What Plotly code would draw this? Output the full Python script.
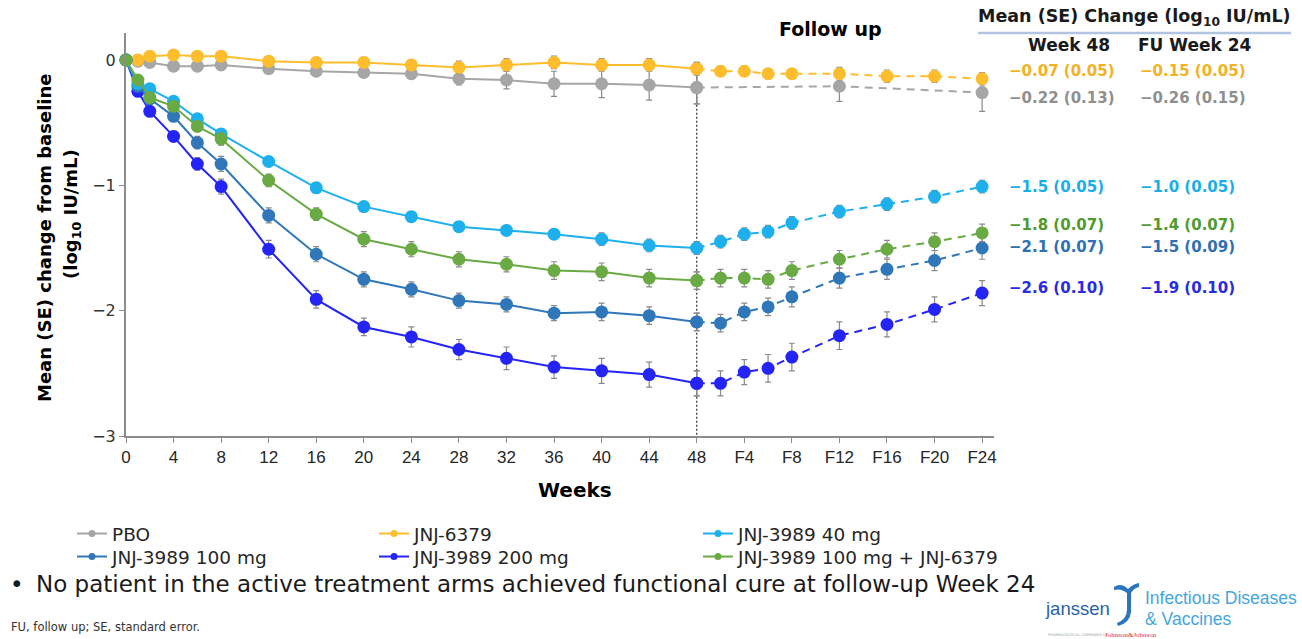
import plotly.graph_objects as go

# ---------------------------------------------------------------- canvas
W, H = 1302, 639
M_L, M_R, M_T, M_B = 126, 308, 33, 203
PW, PH = W - M_L - M_R, H - M_T - M_B


def px(x):
    """pixel column -> paper x"""
    return (x - M_L) / PW


def py(y):
    """pixel row -> paper y"""
    return (H - M_B - y) / PH


# ---------------------------------------------------------------- data
weeks = [0, 1, 2, 4, 6, 8, 12, 16, 20, 24, 28, 32, 36, 40, 44, 48]
fu_weeks = [48, 50, 52, 54, 56, 60, 64, 68, 72]
fu_weeks_pbo = [48, 60, 72]

tick_vals = [0, 4, 8, 12, 16, 20, 24, 28, 32, 36, 40, 44, 48, 52, 56, 60, 64, 68, 72]
tick_text = ["0", "4", "8", "12", "16", "20", "24", "28", "32", "36", "40", "44", "48",
             "F4", "F8", "F12", "F16", "F20", "F24"]

pbo_mean = [0, -0.01, -0.02, -0.05, -0.05, -0.04, -0.07, -0.09, -0.10, -0.11, -0.15, -0.16, -0.19, -0.19, -0.20, -0.22]
pbo_se = [0, 0.01, 0.02, 0.02, 0.02, 0.02, 0.03, 0.03, 0.04, 0.04, 0.05, 0.07, 0.10, 0.11, 0.12, 0.13]
pbo_fu_mean = [-0.22, -0.21, -0.26]
pbo_fu_se = [0.13, 0.12, 0.15]

j6379_mean = [0, 0.00, 0.03, 0.04, 0.03, 0.03, -0.01, -0.02, -0.02, -0.04, -0.06, -0.04, -0.02, -0.04, -0.04, -0.07]
j6379_se = [0, 0.01, 0.02, 0.02, 0.02, 0.03, 0.03, 0.04, 0.04, 0.04, 0.05, 0.05, 0.05, 0.05, 0.05, 0.05]
j6379_fu_mean = [-0.07, -0.09, -0.09, -0.11, -0.11, -0.11, -0.13, -0.13, -0.15]
j6379_fu_se = [0.05, 0.04, 0.04, 0.04, 0.04, 0.05, 0.05, 0.05, 0.05]

j3989_40_mean = [0, -0.19, -0.23, -0.33, -0.47, -0.59, -0.81, -1.02, -1.17, -1.25, -1.33, -1.36, -1.39, -1.43, -1.48, -1.50]
j3989_40_se = [0, 0.02, 0.02, 0.03, 0.03, 0.03, 0.03, 0.04, 0.04, 0.04, 0.04, 0.04, 0.04, 0.05, 0.05, 0.05]
j3989_40_fu_mean = [-1.50, -1.45, -1.39, -1.37, -1.30, -1.21, -1.15, -1.09, -1.01]
j3989_40_fu_se = [0.05, 0.05, 0.05, 0.05, 0.05, 0.05, 0.05, 0.05, 0.05]

j3989_100_mean = [0, -0.21, -0.31, -0.45, -0.66, -0.83, -1.24, -1.55, -1.75, -1.83, -1.92, -1.95, -2.02, -2.01, -2.04, -2.09]
j3989_100_se = [0, 0.02, 0.03, 0.04, 0.05, 0.06, 0.06, 0.06, 0.06, 0.06, 0.06, 0.06, 0.06, 0.07, 0.07, 0.07]
j3989_100_fu_mean = [-2.09, -2.10, -2.01, -1.97, -1.89, -1.74, -1.67, -1.60, -1.50]
j3989_100_fu_se = [0.07, 0.07, 0.07, 0.07, 0.08, 0.08, 0.08, 0.08, 0.09]

j3989_200_mean = [0, -0.25, -0.41, -0.61, -0.83, -1.01, -1.51, -1.91, -2.13, -2.21, -2.31, -2.38, -2.45, -2.48, -2.51, -2.58]
j3989_200_se = [0, 0.02, 0.03, 0.04, 0.05, 0.06, 0.07, 0.07, 0.07, 0.08, 0.08, 0.09, 0.09, 0.10, 0.10, 0.10]
j3989_200_fu_mean = [-2.58, -2.58, -2.49, -2.46, -2.37, -2.20, -2.11, -1.99, -1.86]
j3989_200_fu_se = [0.10, 0.10, 0.10, 0.11, 0.11, 0.11, 0.10, 0.10, 0.10]

combo_mean = [0, -0.16, -0.30, -0.37, -0.53, -0.63, -0.96, -1.23, -1.43, -1.51, -1.59, -1.63, -1.68, -1.69, -1.74, -1.76]
combo_se = [0, 0.02, 0.03, 0.04, 0.04, 0.05, 0.05, 0.05, 0.06, 0.06, 0.06, 0.06, 0.07, 0.07, 0.07, 0.07]
combo_fu_mean = [-1.76, -1.74, -1.74, -1.75, -1.68, -1.59, -1.51, -1.45, -1.38]
combo_fu_se = [0.07, 0.07, 0.07, 0.07, 0.07, 0.07, 0.07, 0.07, 0.07]

# ---------------------------------------------------------------- styling
FONT = "DejaVu Sans, Verdana, sans-serif"
NARROW = "Liberation Sans Narrow, Arial Narrow, Liberation Sans, Arial, sans-serif"
ERR_COLOR = "#8a8a8a"

# name, mean, se, fu x, fu mean, fu se, marker colour, table text colour, decimals, legend slot
arms = [
    ("PBO", pbo_mean, pbo_se, fu_weeks_pbo, pbo_fu_mean, pbo_fu_se, "#a6a6a6", "#8f8f8f", 2, 0),
    ("JNJ-6379", j6379_mean, j6379_se, fu_weeks, j6379_fu_mean, j6379_fu_se, "#fdbd2c", "#f4b223", 2, 1),
    ("JNJ-3989 200 mg", j3989_200_mean, j3989_200_se, fu_weeks, j3989_200_fu_mean, j3989_200_fu_se, "#2424f7", "#2a2ae6", 1, 4),
    ("JNJ-3989 100 mg", j3989_100_mean, j3989_100_se, fu_weeks, j3989_100_fu_mean, j3989_100_fu_se, "#2f77b8", "#2e70b2", 1, 3),
    ("JNJ-3989 40 mg", j3989_40_mean, j3989_40_se, fu_weeks, j3989_40_fu_mean, j3989_40_fu_se, "#1db0ec", "#1aaee9", 1, 2),
    ("JNJ-3989 100 mg + JNJ-6379", combo_mean, combo_se, fu_weeks, combo_fu_mean, combo_fu_se, "#6aaa45", "#4f9b30", 1, 5),
]

# legend slots: (text left px, text centre px)
legend_slots = [(112, 534), (414, 534), (738, 534), (112, 557), (414, 557), (738, 557)]

fig = go.Figure()

for name, mean, se, fx, fmean, fse, col, tcol, dec, slot in arms:
    err = dict(type="data", array=se, visible=True, color=ERR_COLOR, thickness=1.2, width=3)
    fig.add_trace(go.Scatter(
        x=weeks, y=mean, mode="lines+markers", name=name, showlegend=False,
        line=dict(color=col, width=2), marker=dict(color=col, size=13),
        error_y=err, cliponaxis=False, hoverinfo="x+y"))
    ferr = dict(type="data", array=fse, visible=True, color=ERR_COLOR, thickness=1.2, width=3)
    fig.add_trace(go.Scatter(
        x=fx, y=fmean, mode="lines+markers", name=name, showlegend=False,
        line=dict(color=col, width=2, dash="8px,6px"), marker=dict(color=col, size=13),
        error_y=ferr, cliponaxis=False, hoverinfo="x+y"))

# legend entries (one legend box per entry, laid out in a 3 x 2 grid)
legend_layout = {}
for name, mean, se, fx, fmean, fse, col, tcol, dec, slot in arms:
    key = "legend" if slot == 0 else f"legend{slot + 1}"
    tx, ty = legend_slots[slot]
    fig.add_trace(go.Scatter(
        x=[None], y=[None], mode="lines+markers", name=name, legend=key,
        line=dict(color=col, width=2), marker=dict(color=col, size=7)))
    legend_layout[key] = dict(
        xref="paper", yref="paper", x=px(tx - 40), y=py(ty),
        xanchor="left", yanchor="middle", orientation="v",
        bgcolor="rgba(0,0,0,0)", borderwidth=0, itemwidth=30,
        font=dict(family=FONT, size=18.5, color="#262626"))

# ---------------------------------------------------------------- annotations
ann = []


def text(x, y, s, size, color="#000000", bold=False, family=FONT, xanchor="left", angle=0):
    ann.append(dict(
        x=px(x), y=py(y), xref="paper", yref="paper", text=s, showarrow=False,
        xanchor=xanchor, yanchor="middle", textangle=angle,
        font=dict(family=family, size=size, color=color, weight="bold" if bold else "normal")))


# axis titles
text(44, 238, "Mean (SE) change from baseline", 18, bold=True, xanchor="center", angle=-90)
text(72, 214, "(log<sub>10</sub> IU/mL)", 18, bold=True, xanchor="center", angle=-90)
text(575, 490, "Weeks", 20, bold=True, xanchor="center")
text(830, 29, "Follow up", 19, bold=True, xanchor="center")

# summary table at the right
text(1134, 18, "Mean (SE) Change (log<sub>10</sub> IU/mL)", 17.5, color="#1a1a1a", bold=True, xanchor="center")
text(1069, 45, "Week 48", 17, color="#1a1a1a", bold=True, xanchor="center")
text(1195, 45, "FU Week 24", 17, color="#1a1a1a", bold=True, xanchor="center")

table_rows = {"PBO": 98, "JNJ-6379": 71, "JNJ-3989 40 mg": 187, "JNJ-3989 100 mg + JNJ-6379": 225,
              "JNJ-3989 100 mg": 247, "JNJ-3989 200 mg": 288}


def fmt(v, dec):
    s = f"{abs(v):.{dec}f}"
    return ("\u2212" + s) if v < 0 else s


for name, mean, se, fx, fmean, fse, col, tcol, dec, slot in arms:
    ry = table_rows[name]
    text(1007, ry, f"{fmt(mean[-1], dec)} ({se[-1]:.2f})", 15, color=tcol, bold=True)
    text(1138, ry, f"{fmt(fmean[-1], dec)} ({fse[-1]:.2f})", 15, color=tcol, bold=True)

# footer
text(8, 584, "\u2022", 23, color="#1a1a1a")
text(34, 584, "No patient in the active treatment arms achieved functional cure at follow-up Week 24",
     23, color="#1a1a1a")
text(9, 627, "FU, follow up; SE, standard error.", 11.5, color="#333333")

# company mark
text(1043, 608, "janssen", 18.5, color="#2c5fa9", family="Liberation Sans, Arial, sans-serif")
text(1143, 598, "Infectious Diseases", 17.5, color="#45a6dd", family="Liberation Sans, Arial, sans-serif")
text(1143, 619, "&amp; Vaccines", 17.5, color="#45a6dd", family="Liberation Sans, Arial, sans-serif")
text(1046, 635, "PHARMACEUTICAL COMPANIES OF", 3.5, color="#9a9a9a")
text(1103, 635, "Johnson&amp;Johnson", 7, color="#e0302a", family="Liberation Serif, serif")

# ---------------------------------------------------------------- shapes
shapes = []

# week-48 boundary
shapes.append(dict(type="line", xref="x", yref="y", x0=48, x1=48, y0=j6379_mean[-1], y1=-3,
                   line=dict(color="#3a3a3a", width=1.3, dash="2px,2px"), layer="below"))
# underline of the table heading
shapes.append(dict(type="line", xref="paper", yref="paper", x0=px(978), x1=px(1291),
                   y0=py(33), y1=py(33), line=dict(color="#b3c4e2", width=2.5)))

# janssen swoosh
swoosh = [("M", (1114, 587)), ("Q", (1121, 582), (1128, 589)), ("Q", (1133, 584), (1139, 583)),
          ("L", (1139, 587)), ("Q", (1134, 588), (1131, 593)), ("L", (1131, 612)),
          ("Q", (1130, 623), (1118, 626)), ("L", (1117, 623)), ("Q", (1127, 619), (1127, 610)),
          ("L", (1127, 593)), ("Q", (1121, 588), (1114, 590))]
path = ""
for cmd, *pts in swoosh:
    path += cmd + " ".join(f"{px(a):.5f},{py(b):.5f}" for a, b in pts) + " "
path += "Z"
shapes.append(dict(type="path", xref="paper", yref="paper", path=path,
                   fillcolor="#2c74c0", line=dict(width=0)))

# ---------------------------------------------------------------- layout
fig.update_layout(
    width=W, height=H,
    margin=dict(l=M_L, r=M_R, t=M_T, b=M_B, pad=0, autoexpand=False),
    paper_bgcolor="white", plot_bgcolor="white",
    font=dict(family=FONT, color="#333333"),
    xaxis=dict(range=[0, 73], tickvals=tick_vals, ticktext=tick_text,
               showline=True, linecolor="#8c8c8c", linewidth=2,
               ticks="outside", ticklen=5, tickcolor="#8c8c8c", tickwidth=1,
               showgrid=False, zeroline=False,
               tickfont=dict(family=NARROW, size=17, color="#262626")),
    yaxis=dict(range=[-3, 0.215], tickvals=[0, -1, -2, -3],
               showline=True, linecolor="#8c8c8c", linewidth=2,
               ticks="outside", ticklen=5, tickcolor="#8c8c8c", tickwidth=1,
               showgrid=False, zeroline=False,
               tickfont=dict(family=FONT, size=16, color="#333333")),
    annotations=ann, shapes=shapes, showlegend=True,
    **legend_layout,
)

fig.write_html("out.html")
